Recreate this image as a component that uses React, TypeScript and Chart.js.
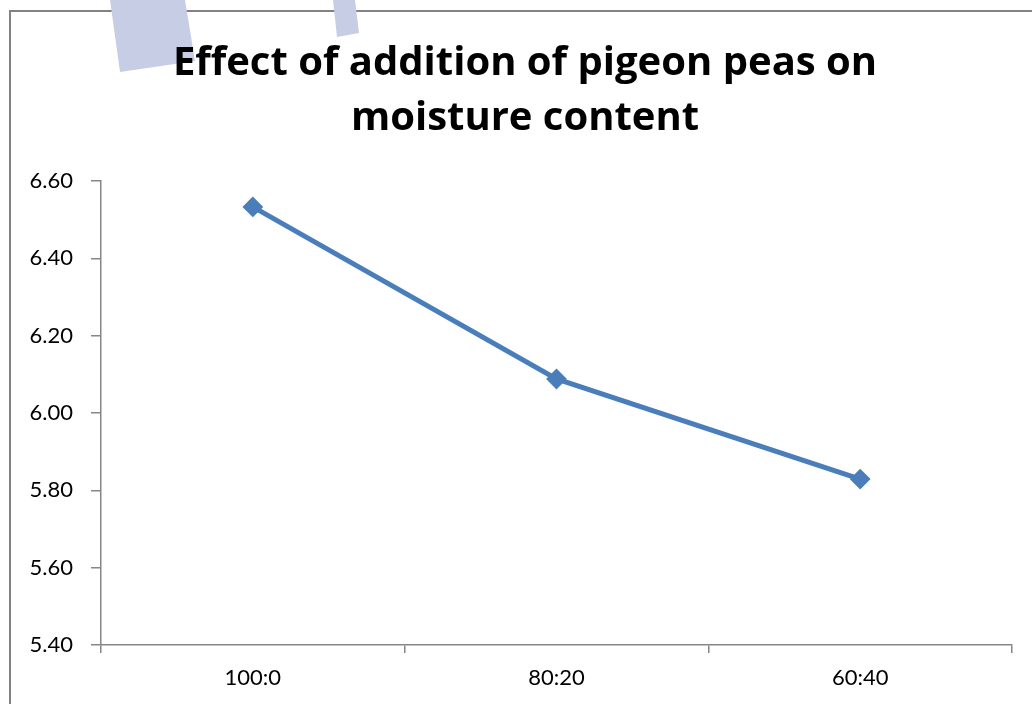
import React, { useEffect, useRef } from "react";
import { Chart, registerables } from "chart.js";

Chart.register(...registerables);

const categories = ["100:0", "80:20", "60:40"];
const moisture = [6.533, 6.088, 5.829];
const yMin = 5.4;
const yMax = 6.6;
const yStep = 0.2;
const titleLines = ["Effect of addition of pigeon peas on", "moisture content"];

function drawShapes(ctx: CanvasRenderingContext2D) {
  ctx.fillStyle = "#c8cde6";
  ctx.beginPath();
  ctx.moveTo(110, 0);
  ctx.lineTo(185, 0);
  ctx.lineTo(195, 61);
  ctx.lineTo(120, 72);
  ctx.closePath();
  ctx.fill();
  ctx.beginPath();
  ctx.moveTo(333, 0);
  ctx.lineTo(355, 0);
  ctx.lineTo(359, 33);
  ctx.lineTo(337, 37);
  ctx.closePath();
  ctx.fill();
}

const decorPlugin = {
  id: "decor",
  afterLayout(chart: any) {
    // let the y tick labels use the space left of the axis box
    chart.scales.y.left = 0;
  },
  beforeDraw(chart: any) {
    const ctx = chart.ctx;
    ctx.save();
    ctx.fillStyle = "#ffffff";
    ctx.fillRect(0, 0, chart.width, chart.height);
    ctx.fillStyle = "#828282";
    ctx.fillRect(9, 10, chart.width, 2);
    ctx.fillRect(9, 10, 2, chart.height);
    drawShapes(ctx);
    ctx.restore();
  },
};

export default function App() {
  const ref = useRef<HTMLCanvasElement>(null);
  useEffect(() => {
    if (!ref.current) return;
    const chart = new Chart(ref.current, {
      type: "line",
      data: {
        labels: categories,
        datasets: [
          {
            data: moisture,
            borderColor: "#4a7ebb",
            backgroundColor: "#4a7ebb",
            borderWidth: 5,
            pointStyle: "rectRot",
            pointRadius: 9,
            pointBorderWidth: 2,
            pointBackgroundColor: "#4a7ebb",
            pointBorderColor: "#4a7ebb",
            tension: 0,
          },
        ],
      },
      options: {
        responsive: false,
        animation: false,
        layout: { padding: { left: 38, right: 20, top: 0, bottom: 0 } },
        plugins: {
          legend: { display: false },
          tooltip: { enabled: false },
          title: {
            display: true,
            text: titleLines,
            color: "#000000",
            font: { family: "'Open Sans'", size: 40, weight: "bold", lineHeight: 1.375 },
            padding: { top: 36, bottom: 35 },
          },
        },
        scales: {
          x: {
            offset: true,
            grid: {
              offset: true,
              drawOnChartArea: false,
              drawTicks: true,
              tickLength: 8,
              color: "#868686",
              lineWidth: 1.5,
            },
            border: { display: true, color: "#868686", width: 1.5 },
            ticks: { color: "#000000", padding: 12, font: { family: "Lato", size: 22 } },
            afterFit(scale: any) {
              scale.height = 59;
            },
          },
          y: {
            min: yMin,
            max: yMax,
            grid: {
              drawOnChartArea: false,
              drawTicks: true,
              tickLength: 10,
              color: "#868686",
              lineWidth: 1.5,
            },
            border: { display: true, color: "#868686", width: 1.5 },
            ticks: {
              stepSize: yStep,
              color: "#000000",
              padding: 18,
              font: { family: "Lato", size: 22 },
              callback: (v: any) => Number(v).toFixed(2),
            },
            afterFit(scale: any) {
              scale.width = 63;
            },
          },
        },
      },
      plugins: [decorPlugin],
    });
    return () => chart.destroy();
  }, []);
  return (
    <div
      style={{
        position: "absolute",
        left: 0,
        top: 0,
        width: 1032,
        height: 704,
        overflow: "hidden",
        background: "#ffffff",
      }}
    >
      <canvas
        ref={ref}
        width={1032}
        height={704}
        style={{ display: "block", position: "absolute", left: 0, top: 0 }}
      />
    </div>
  );
}
